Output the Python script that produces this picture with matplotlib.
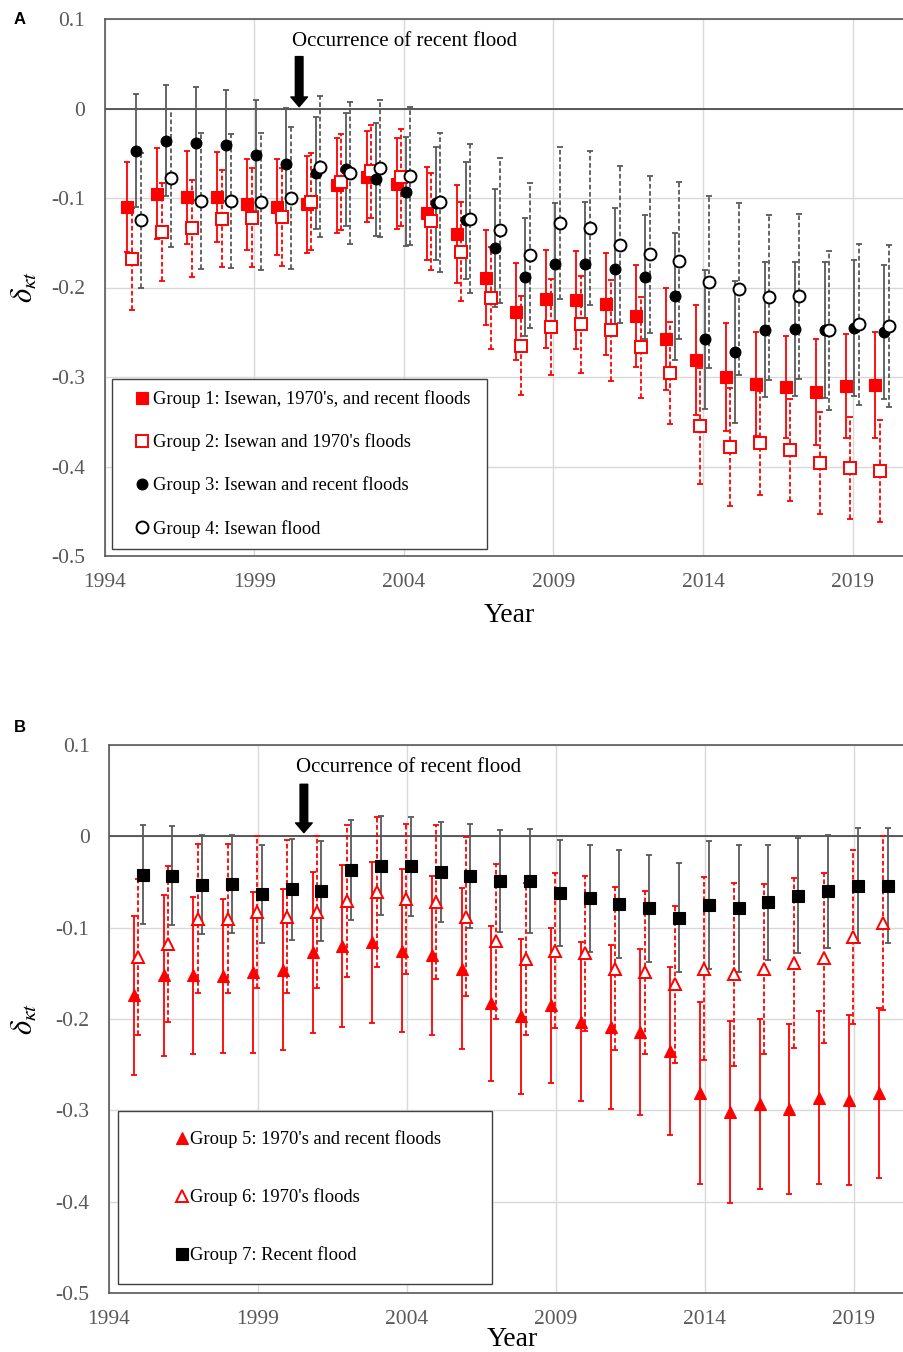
import matplotlib
matplotlib.use("Agg")
import matplotlib.pyplot as plt

plt.rcParams['font.family'] = ['Liberation Serif', 'DejaVu Serif']
plt.rcParams['mathtext.fontset'] = 'stix'

years = list(range(1995, 2021))

# Panel A: groups 1-4 (mean and half-width of the error bar)
g1 = [-0.110, -0.095, -0.099, -0.099, -0.107, -0.110, -0.107, -0.086, -0.076, -0.084,
      -0.117, -0.140, -0.189, -0.227, -0.213, -0.214, -0.218, -0.232, -0.258, -0.281,
      -0.300, -0.308, -0.311, -0.317, -0.310, -0.309]
g1_err = [0.050, 0.051, 0.052, 0.050, 0.051, 0.054, 0.054, 0.053, 0.051, 0.051,
          0.052, 0.055, 0.053, 0.054, 0.055, 0.055, 0.057, 0.057, 0.057, 0.061,
          0.060, 0.058, 0.057, 0.059, 0.058, 0.059]
g2 = [-0.168, -0.138, -0.134, -0.123, -0.122, -0.121, -0.104, -0.082, -0.070, -0.077,
      -0.126, -0.160, -0.212, -0.265, -0.244, -0.241, -0.248, -0.267, -0.296, -0.355,
      -0.378, -0.374, -0.382, -0.396, -0.402, -0.405]
g2_err = [0.057, 0.055, 0.054, 0.054, 0.055, 0.055, 0.054, 0.054, 0.052, 0.054,
          0.054, 0.055, 0.057, 0.055, 0.054, 0.054, 0.056, 0.056, 0.057, 0.065,
          0.066, 0.058, 0.057, 0.057, 0.057, 0.057]
g3 = [-0.047, -0.036, -0.039, -0.041, -0.052, -0.062, -0.072, -0.068, -0.079, -0.093,
      -0.106, -0.125, -0.156, -0.188, -0.174, -0.174, -0.179, -0.188, -0.210, -0.258,
      -0.272, -0.247, -0.246, -0.248, -0.245, -0.250]
g3_err = [0.063, 0.062, 0.063, 0.062, 0.062, 0.063, 0.063, 0.063, 0.063, 0.061,
          0.063, 0.065, 0.066, 0.066, 0.068, 0.069, 0.068, 0.069, 0.071, 0.078,
          0.079, 0.075, 0.075, 0.076, 0.076, 0.075]
g4 = [-0.125, -0.078, -0.103, -0.103, -0.104, -0.100, -0.065, -0.072, -0.067, -0.075,
      -0.105, -0.123, -0.136, -0.164, -0.128, -0.133, -0.152, -0.163, -0.170, -0.194,
      -0.202, -0.211, -0.210, -0.248, -0.241, -0.243]
g4_err = [0.075, 0.077, 0.076, 0.075, 0.077, 0.079, 0.079, 0.079, 0.077, 0.077,
          0.078, 0.083, 0.081, 0.081, 0.085, 0.086, 0.088, 0.088, 0.088, 0.096,
          0.096, 0.092, 0.092, 0.089, 0.090, 0.090]

# Panel B: groups 5-7
g5 = [-0.174, -0.152, -0.152, -0.153, -0.149, -0.146, -0.127, -0.120, -0.116, -0.125,
      -0.130, -0.145, -0.183, -0.197, -0.185, -0.203, -0.209, -0.214, -0.235, -0.281,
      -0.302, -0.293, -0.299, -0.286, -0.289, -0.281]
g5_err = [0.087, 0.088, 0.086, 0.084, 0.088, 0.088, 0.088, 0.089, 0.088, 0.089,
          0.087, 0.088, 0.085, 0.085, 0.085, 0.087, 0.090, 0.091, 0.092, 0.100,
          0.100, 0.093, 0.093, 0.095, 0.093, 0.093]
g6 = [-0.132, -0.118, -0.090, -0.090, -0.083, -0.088, -0.083, -0.071, -0.061, -0.069,
      -0.072, -0.088, -0.115, -0.134, -0.125, -0.128, -0.145, -0.149, -0.162, -0.145,
      -0.151, -0.145, -0.139, -0.133, -0.110, -0.095]
g6_err = [0.085, 0.085, 0.082, 0.082, 0.083, 0.084, 0.083, 0.083, 0.082, 0.082,
          0.084, 0.087, 0.085, 0.083, 0.085, 0.085, 0.089, 0.089, 0.086, 0.100,
          0.100, 0.093, 0.093, 0.093, 0.095, 0.095]
g7 = [-0.042, -0.043, -0.053, -0.052, -0.063, -0.058, -0.060, -0.037, -0.032, -0.033,
      -0.039, -0.043, -0.049, -0.049, -0.062, -0.068, -0.074, -0.079, -0.089, -0.075,
      -0.079, -0.072, -0.065, -0.060, -0.054, -0.054]
g7_err = [0.054, 0.054, 0.054, 0.054, 0.054, 0.055, 0.055, 0.055, 0.054, 0.054,
          0.055, 0.057, 0.056, 0.057, 0.058, 0.059, 0.059, 0.059, 0.060, 0.070,
          0.070, 0.063, 0.063, 0.062, 0.063, 0.063]

labels_a = ["Group 1: Isewan, 1970's, and recent floods",
            "Group 2: Isewan and 1970's floods",
            "Group 3: Isewan and recent floods",
            "Group 4: Isewan flood"]
labels_b = ["Group 5: 1970's and recent floods",
            "Group 6: 1970's floods",
            "Group 7: Recent flood"]

xticks = [1994, 1999, 2004, 2009, 2014, 2019]
yticks = [-0.5, -0.4, -0.3, -0.2, -0.1, 0, 0.1]
ytick_labels = ["-0.5", "-0.4", "-0.3", "-0.2", "-0.1", "0", "0.1"]
flood_year = 2000.5
note = "Occurrence of recent flood"

RED = "#ff0000"
GREY = "#595959"
W, H = 904, 1352

fig = plt.figure(figsize=(W / 100, H / 100), dpi=100)
axA = fig.add_axes([104.7 / W, 1 - 556 / H, (W - 104.7) / W, 537 / H])
axB = fig.add_axes([109 / W, 1 - 1293 / H, (W - 109) / W, 548 / H])


def style_axes(ax, px_per_year, left_px):
    ax.set_xlim(1994, 1994 + (W - left_px) / px_per_year)
    ax.set_ylim(-0.5, 0.1)
    ax.set_xticks(xticks)
    ax.set_yticks(yticks)
    ax.set_yticklabels(ytick_labels)
    ax.grid(color="#d9d9d9", lw=1, zorder=0)
    ax.set_axisbelow(True)
    ax.axhline(0, color="#404040", lw=1.2, zorder=1)
    ax.tick_params(length=0, labelsize=15.5, labelcolor=GREY)
    ax.tick_params(axis="x", pad=12)
    ax.tick_params(axis="y", pad=14)
    ax.spines["right"].set_visible(False)
    for s in ["left", "bottom", "top"]:
        ax.spines[s].set_color(GREY)
        ax.spines[s].set_linewidth(1.2)
    ax.set_ylabel(r"$\delta_{\kappa t}$", fontsize=22, rotation=90)
    ax.set_xlabel("Year", fontsize=20)


def draw_group(ax, offset, y, err, color, dashed, marker, ms, filled, mec):
    x = [yr + offset for yr in years]
    eb = ax.errorbar(x, y, yerr=err, fmt="none", ecolor=color, elinewidth=1.3,
                     capsize=2.2, capthick=1.3, zorder=2)
    if dashed:
        eb[2][0].set_linestyle((0, (2.6, 1.4)))
    face = mec if filled else "white"
    line, = ax.plot(x, y, ls="none", marker=marker, ms=ms, mfc=face, mec=mec,
                    mew=1.4 if not filled else 0.8, zorder=4)
    return line


# -----------------------------
# Panel A
# -----------------------------
style_axes(axA, 29.92, 104.7)
hA = [
    draw_group(axA, -0.24, g1, g1_err, RED, False, "s", 8.6, True, RED),
    draw_group(axA, -0.09, g2, g2_err, RED, True, "s", 8.2, False, RED),
    draw_group(axA, 0.06, g3, g3_err, GREY, False, "o", 7.8, True, "black"),
    draw_group(axA, 0.21, g4, g4_err, GREY, True, "o", 8.6, False, "black"),
]
legA = axA.legend(hA, labels_a, loc="lower left", bbox_to_anchor=(0.009, 0.013, 0.469, 0),
                  mode="expand", borderaxespad=0, fontsize=13.3, labelspacing=1.37,
                  borderpad=0.62, handlelength=2.05, handletextpad=-0.47,
                  fancybox=False, framealpha=1, edgecolor="#404040")
legA.get_frame().set_linewidth(1.0)
axA.annotate("", xy=(flood_year, 0.002), xytext=(flood_year, 0.058),
             arrowprops=dict(facecolor="black", edgecolor="black", width=5.5,
                             headwidth=12, headlength=7))
axA.text(2000.27, 0.0752, note, fontsize=15, ha="left", va="center")
axA.yaxis.set_label_coords(-0.081, 0.5)
axA.xaxis.set_label_coords(0.506, -0.088)

# -----------------------------
# Panel B
# -----------------------------
style_axes(axB, 29.8, 109)
hB = [
    draw_group(axB, -0.17, g5, g5_err, RED, False, "^", 9, True, RED),
    draw_group(axB, -0.02, g6, g6_err, RED, True, "^", 9, False, RED),
    draw_group(axB, 0.13, g7, g7_err, GREY, False, "s", 8.6, True, "black"),
]
legB = axB.legend(hB, labels_b, loc="lower left", bbox_to_anchor=(0.0113, 0.0164, 0.470, 0),
                  mode="expand", borderaxespad=0, fontsize=13.3, labelspacing=2.17,
                  borderpad=1.07, handlelength=4.8, handletextpad=-1.95,
                  fancybox=False, framealpha=1, edgecolor="#404040")
legB.get_frame().set_linewidth(1.0)
axB.annotate("", xy=(flood_year + 0.04, 0.004), xytext=(flood_year + 0.04, 0.057),
             arrowprops=dict(facecolor="black", edgecolor="black", width=5.5,
                             headwidth=12, headlength=7))
axB.text(2000.28, 0.0753, note, fontsize=15, ha="left", va="center")
axB.yaxis.set_label_coords(-0.087, 0.5)
axB.xaxis.set_label_coords(0.507, -0.062)

fig.text(20 / W, 1 - 20 / H, "A", fontsize=12, fontweight="bold",
         family=["Liberation Sans", "DejaVu Sans"], ha="center", va="center")
fig.text(20 / W, 1 - 727 / H, "B", fontsize=12, fontweight="bold",
         family=["Liberation Sans", "DejaVu Sans"], ha="center", va="center")

fig.savefig("out.png", dpi=100)
